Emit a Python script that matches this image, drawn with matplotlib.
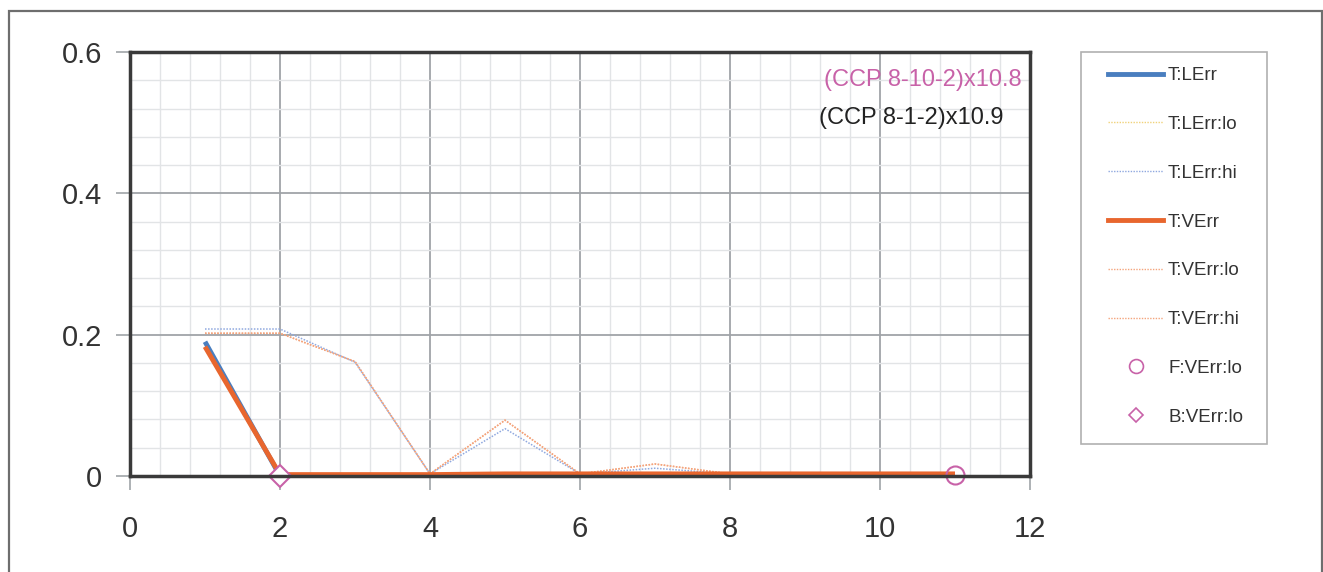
import matplotlib
matplotlib.use("Agg")
import matplotlib.pyplot as plt
from matplotlib.lines import Line2D
from matplotlib.patches import Rectangle
from matplotlib.ticker import MultipleLocator

plt.rcParams['font.family'] = ['Liberation Sans', 'DejaVu Sans']

x = [1, 2, 3, 4, 5, 6, 7, 8, 9, 10, 11]
t_lerr = [0.190, 0.0, 0.0, 0.0, 0.0, 0.0, 0.0, 0.0, 0.0, 0.0, 0.0]
t_lerr_lo = [0.0, 0.0, 0.0, 0.0, 0.0, 0.0, 0.0, 0.0, 0.0, 0.0, 0.0]
t_lerr_hi = [0.208, 0.208, 0.161, 0.003, 0.067, 0.003, 0.011, 0.003, 0.003, 0.003, 0.003]
t_verr = [0.183, 0.002, 0.002, 0.002, 0.003, 0.003, 0.003, 0.003, 0.003, 0.003, 0.003]
t_verr_lo = [0.202, 0.202, 0.162, 0.003, 0.079, 0.003, 0.017, 0.003, 0.003, 0.003, 0.003]
t_verr_hi = [0.202, 0.202, 0.162, 0.003, 0.079, 0.003, 0.017, 0.003, 0.003, 0.003, 0.003]
f_x = [11]
f_verr_lo = [0.002]
b_x = [2]
b_verr_lo = [0.0]

labels = ["T:LErr", "T:LErr:lo", "T:LErr:hi", "T:VErr", "T:VErr:lo", "T:VErr:hi", "F:VErr:lo", "B:VErr:lo"]
annot1 = "(CCP 8-10-2)x10.8"
annot2 = "(CCP 8-1-2)x10.9"

W, H = 1323, 572
fig = plt.figure(figsize=(W / 100, H / 100), dpi=100)
# outer frame
fig.patches.append(Rectangle((9 / W, -0.02), (1322 - 9) / W, (H - 11) / H + 0.02,
                             transform=fig.transFigure, fill=False, edgecolor='#6e6e6e', lw=1.6))
# legend frame
fig.patches.append(Rectangle((1081 / W, 1 - 444 / H), (1267 - 1081) / W, (444 - 52) / H,
                             transform=fig.transFigure, fill=False, edgecolor='#b0b0b0', lw=1.2))

ax = fig.add_axes([130 / W, (H - 476) / H, (1030 - 130) / W, (476 - 52) / H])

blue = '#4a7ebf'
orange = '#e8662e'
pink = '#c862a8'
yel = '#f0d27a'
lblue = '#8fa8df'
lorange = '#f4a47c'
dots = (0, (1, 1))

ax.plot(x, t_lerr_lo, color=yel, lw=1.0, ls=dots, zorder=3)
ax.plot(x, t_lerr_hi, color=lblue, lw=1.1, ls=dots, zorder=3)
ax.plot(x, t_verr_lo, color=lorange, lw=1.1, ls=dots, zorder=3)
ax.plot(x, t_verr_hi, color=lorange, lw=1.1, ls=dots, zorder=3)
ax.plot(x, t_lerr, color=blue, lw=3.5, zorder=4, solid_capstyle='butt')
ax.plot(x, t_verr, color=orange, lw=3.5, zorder=5, solid_capstyle='butt')
ax.plot(f_x, f_verr_lo, ls='none', marker='o', ms=13, mfc='none', mec=pink, mew=1.5, zorder=6, clip_on=False)
ax.plot(b_x, b_verr_lo, ls='none', marker='D', ms=11, mfc='white', mec=pink, mew=1.5, zorder=6, clip_on=False)

ax.set_xlim(0, 12)
ax.set_ylim(0, 0.6)
ax.xaxis.set_major_locator(MultipleLocator(2))
ax.xaxis.set_minor_locator(MultipleLocator(0.4))
ax.yaxis.set_major_locator(MultipleLocator(0.2))
ax.yaxis.set_minor_locator(MultipleLocator(0.04))
ax.xaxis.set_major_formatter(plt.FuncFormatter(lambda v, p: f"{v:g}"))
ax.yaxis.set_major_formatter(plt.FuncFormatter(lambda v, p: f"{v:g}"))

ax.grid(which='major', color='#a0a4a8', lw=1.3, zorder=1)
ax.grid(which='minor', color='#e2e4e6', lw=1.0, zorder=0)
ax.set_axisbelow(True)
ax.tick_params(which='major', direction='out', length=10, width=1.2, color='#a0a4a8',
               labelsize=21, labelcolor='#333333')
ax.tick_params(axis='y', which='major', pad=10)
ax.tick_params(axis='x', which='major', pad=18)
ax.tick_params(which='minor', length=0)
for s in ax.spines.values():
    s.set_color('#3a3a3a')
    s.set_linewidth(2.5)
    s.set_zorder(7)

fig.text(1022 / W, 1 - 80 / H, annot1, color=pink, fontsize=17, ha='right', va='center')
fig.text(819 / W, 1 - 118 / H, annot2, color='#222222', fontsize=17, ha='left', va='center')

handles = [
    Line2D([], [], color=blue, lw=3.5),
    Line2D([], [], color=yel, lw=1.0, ls=dots),
    Line2D([], [], color=lblue, lw=1.0, ls=dots),
    Line2D([], [], color=orange, lw=3.5),
    Line2D([], [], color=lorange, lw=1.0, ls=dots),
    Line2D([], [], color=lorange, lw=1.0, ls=dots),
    Line2D([], [], ls='none', marker='o', ms=10, mfc='none', mec=pink, mew=1.2),
    Line2D([], [], ls='none', marker='D', ms=7, mfc='none', mec=pink, mew=1.2),
]
leg = fig.legend(handles, labels, loc='upper left', bbox_to_anchor=(1108 / W, 1 - 67 / H),
                 fontsize=13.5, frameon=False,
                 handlelength=2.94, handletextpad=0.26, labelspacing=1.69,
                 borderpad=0, borderaxespad=0, labelcolor='#333333')

fig.savefig("out.png", dpi=100)
